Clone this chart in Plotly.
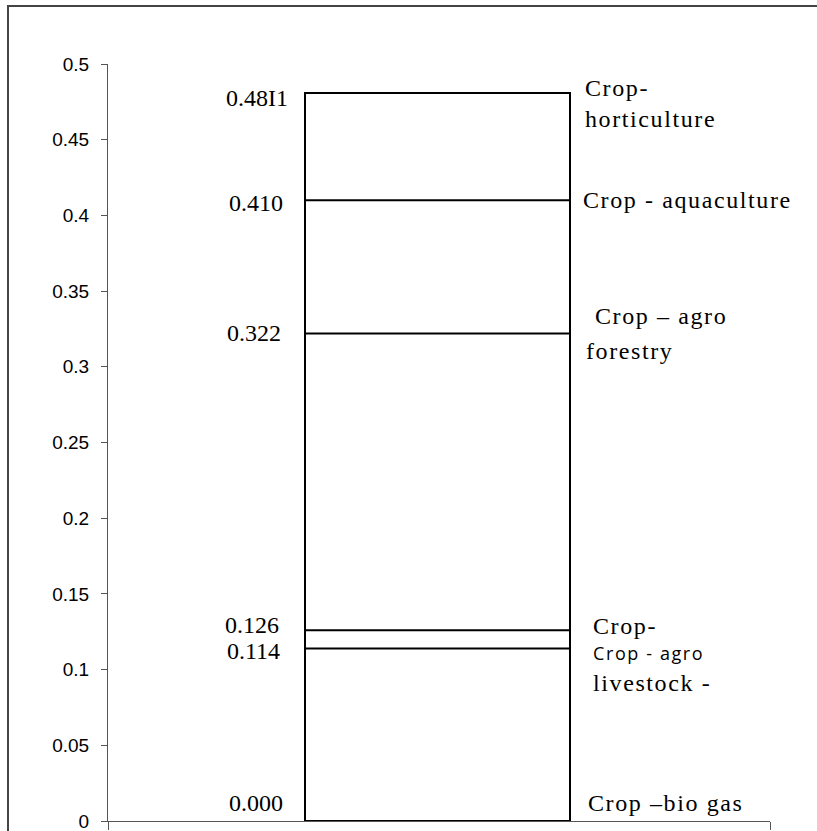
import json
import plotly.graph_objects as go

# ---- data ----
total_value = 0.4811
boundary_values = [0.410, 0.322, 0.126, 0.114]
value_labels = ["0.48I1", "0.410", "0.322", "0.126", "0.114", "0.000"]
value_label_y = [0.4811, 0.410, 0.322, 0.126, 0.114, 0.0]
y_tick_vals = [0, 0.05, 0.1, 0.15, 0.2, 0.25, 0.3, 0.35, 0.4, 0.45, 0.5]
y_tick_text = ["0", "0.05", "0.1", "0.15", "0.2", "0.25", "0.3", "0.35", "0.4", "0.45", "0.5"]

W, H = 817, 831
L, R, T, B = 108, 47, 64, 10
PW = W - L - R
PH = H - T - B

def px_x(p):
    return (p - L) / PW

def px_y(p):
    return (H - B - p) / PH

BAR_X = 0.4977
BAR_W = (570 - 305) / PW
bx0 = BAR_X - BAR_W / 2
bx1 = BAR_X + BAR_W / 2

SERIF = "Liberation Serif, Times New Roman, serif"
SANS = "Liberation Sans, Arial, sans-serif"

fig = go.Figure()
fig.add_trace(go.Bar(
    x=[BAR_X], y=[total_value], width=[BAR_W],
    marker=dict(color="white", line=dict(color="black", width=2)),
    hoverinfo="skip", showlegend=False,
))

shapes = []
for v in boundary_values:
    shapes.append(dict(type="line", xref="x", yref="y", x0=bx0, x1=bx1, y0=v, y1=v,
                       line=dict(color="black", width=2)))
# outer frame
shapes.append(dict(type="rect", xref="paper", yref="paper",
                   x0=px_x(8), x1=px_x(830), y0=px_y(845), y1=px_y(6),
                   line=dict(color="#444444", width=2), fillcolor="rgba(0,0,0,0)", layer="below"))

annotations = []
value_x = [290, 285, 283, 281, 282, 285]
value_shift = [-5, -3, 0, 5, -3, 18]
for txt, yv, xp, ys in zip(value_labels, value_label_y, value_x, value_shift):
    annotations.append(dict(text=txt, x=px_x(xp), xref="paper", y=yv, yref="y",
                            xanchor="right", yanchor="middle", yshift=ys, showarrow=False,
                            font=dict(family=SERIF, size=24, color="black")))

spaced = []
right_labels = [
    ("Crop-<br>horticulture", 583, 0.4811, -11, SERIF, 24),
    ("Crop - aquaculture", 581, 0.410, 0, SERIF, 24),
    ("Crop – agro", 593, 0.322, 17, SERIF, 24),
    ("forestry", 584, 0.322, -18, SERIF, 24),
    ("Crop-", 591, 0.126, 4, SERIF, 24),
    ("Crop - agro", 591, 0.114, -5, "Open Sans, sans-serif", 18),
    ("livestock -", 591, 0.114, -35, SERIF, 24),
    ("Crop –bio gas", 586, 0.0, 18, SERIF, 24),
]
for txt, xp, yv, ys, fam, sz in right_labels:
    spaced.append(len(annotations))
    annotations.append(dict(text=txt, x=px_x(xp), xref="paper", y=yv, yref="y",
                            xanchor="left", yanchor="middle", yshift=ys, showarrow=False,
                            align="left", font=dict(family=fam, size=sz, color="black")))

fig.update_layout(
    width=W, height=H,
    margin=dict(l=L, r=R, t=T, b=B, pad=0, autoexpand=False),
    paper_bgcolor="white", plot_bgcolor="white",
    shapes=shapes, annotations=annotations,
    xaxis=dict(range=[0, 1], showgrid=False, zeroline=False, showline=True, automargin=False,
               linecolor="#555555", linewidth=1, tickvals=[0, 1], ticktext=["", ""],
               ticks="outside", ticklen=8, tickcolor="#555555", fixedrange=True),
    yaxis=dict(range=[0, 0.5], showgrid=False, zeroline=False, showline=True, automargin=False,
               linecolor="#555555", linewidth=1, tickvals=y_tick_vals, ticktext=y_tick_text,
               ticks="outside", ticklen=6, tickcolor="#555555", ticklabelstandoff=8,
               ticklabeloverflow="allow",
               tickfont=dict(family=SANS, size=19, color="black"), fixedrange=True),
    bargap=0,
)

post = """
document.documentElement.style.margin = '0';
document.body.style.margin = '0';
document.body.style.overflow = 'hidden';
document.documentElement.style.overflow = 'hidden';
var gd = document.getElementById('{plot_id}');
gd.style.position = 'fixed';
gd.style.top = '0px';
gd.style.left = '0px';
var ids = %s;
document.querySelectorAll('.annotation').forEach(function(g){
  var i = parseInt(g.getAttribute('data-index'));
  if (ids.indexOf(i) >= 0) {
    g.querySelectorAll('text').forEach(function(t){ t.style.letterSpacing = '1.6px'; });
  }
});
""" % json.dumps(spaced)

fig.write_html("out.html", post_script=post, config={"displayModeBar": False})
